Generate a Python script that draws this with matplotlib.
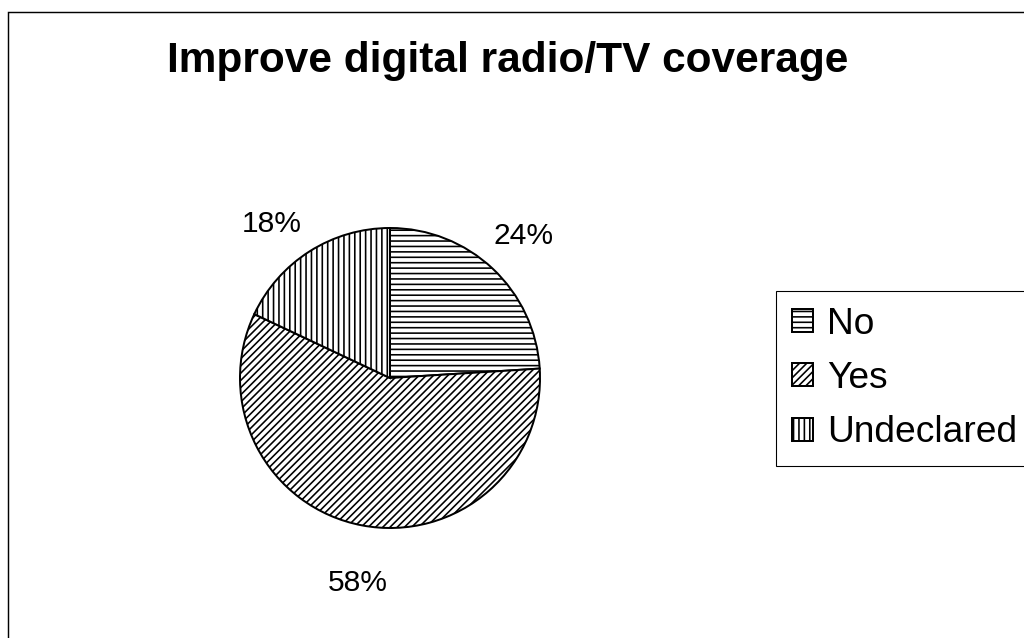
import matplotlib
matplotlib.use("Agg")
import matplotlib.pyplot as plt
import matplotlib.patches as mpatches

# Data
labels = ['No', 'Yes', 'Undeclared']
shares = [24, 58, 18]
hatches = ['----', '//////', '||||']
title = 'Improve digital radio/TV coverage'

plt.rcParams['font.family'] = ['Liberation Sans', 'DejaVu Sans']
plt.rcParams['hatch.linewidth'] = 0.9

DPI = 130
W, H = 1024, 638
fig = plt.figure(figsize=(W / DPI, H / DPI), dpi=DPI)
fig.patch.set_facecolor('white')

# outer frame (only left/top edges visible in the reference)
frame = mpatches.Rectangle((8 / W, -0.1), 1.2, 1.1 - 12 / H,
                           transform=fig.transFigure, fill=False,
                           edgecolor='black', linewidth=0.8)
fig.patches.append(frame)

fig.text(508 / W, 1 - 61 / H, title, ha='center', va='center',
         fontsize=23.5, fontweight='bold')

# pie axes: centre (390, 378), radius 150 px
cx, cy, r = 390, 378, 150
ax = fig.add_axes([(cx - r) / W, (H - cy - r) / H, 2 * r / W, 2 * r / H])
wedges, texts, autotexts = ax.pie(
    shares, startangle=90, counterclock=False,
    colors=['white'] * 3, autopct='%1.0f%%', pctdistance=1.3,
    wedgeprops=dict(edgecolor='black', linewidth=1.1),
    textprops=dict(fontsize=16.6))
for w, h in zip(wedges, hatches):
    w.set_hatch(h)
ax.set_xlim(-1, 1)
ax.set_ylim(-1, 1)

# small nudges of the labels, like the original layout
x, y = autotexts[1].get_position()
autotexts[1].set_position((x * 1.07 + 0.045, y * 1.07))
x, y = autotexts[2].get_position()
autotexts[2].set_position((x - 0.09, y - 0.07))

leg = fig.legend(wedges, labels, loc='upper left',
                 bbox_to_anchor=(776 / W, 1 - 291 / H),
                 fontsize=20.6, frameon=True, fancybox=False,
                 edgecolor='black', framealpha=1,
                 handlelength=0.58, handleheight=0.58,
                 handletextpad=0.37, labelspacing=0.52,
                 borderpad=0.42, borderaxespad=0)
leg.get_frame().set_linewidth(0.6)

fig.savefig('out.png', dpi=DPI, facecolor='white')
